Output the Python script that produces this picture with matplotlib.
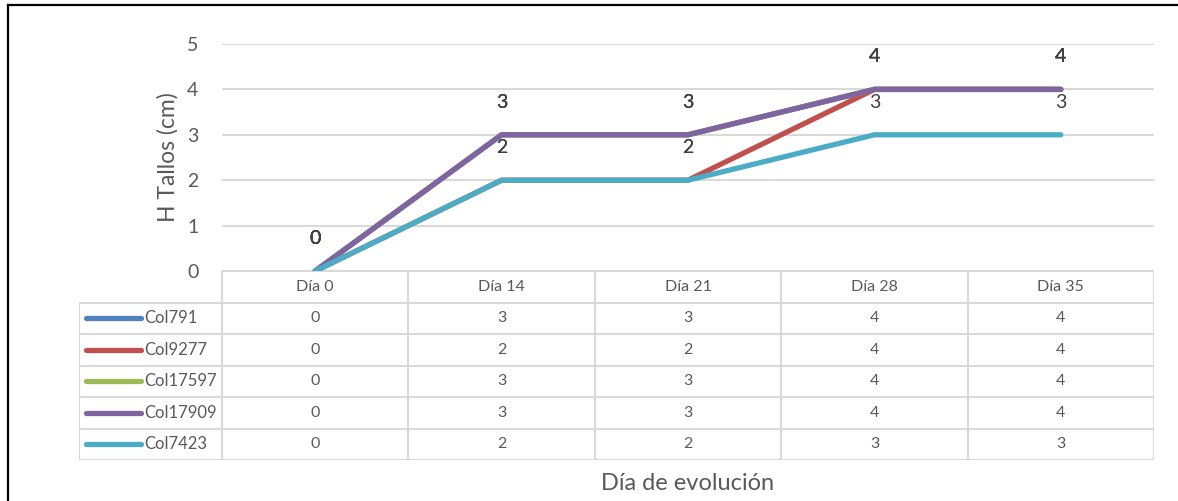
import matplotlib.pyplot as plt
import numpy as np
from matplotlib.lines import Line2D

# datos
dias = ['Día 0', 'Día 14', 'Día 21', 'Día 28', 'Día 35']
series = ['Col791', 'Col9277', 'Col17597', 'Col17909', 'Col7423']
col791 = [0, 3, 3, 4, 4]
col9277 = [0, 2, 2, 4, 4]
col17597 = [0, 3, 3, 4, 4]
col17909 = [0, 3, 3, 4, 4]
col7423 = [0, 2, 2, 3, 3]
valores = [col791, col9277, col17597, col17909, col7423]
colores = ['#4F81BD', '#C0504D', '#9BBB59', '#8064A2', '#4BACC6']

plt.rcParams['font.family'] = ['Lato', 'DejaVu Sans']

W, H = 1178, 501
fig = plt.figure(figsize=(W / 100, H / 100), dpi=100)


def px(x0, y0, x1, y1):
    return [x0 / W, 1 - y1 / H, (x1 - x0) / W, (y1 - y0) / H]


gris = '#D9D9D9'
texto = '#595959'

# grafico de lineas
ax = fig.add_axes(px(222, 44, 1154, 271))
x = np.arange(len(dias))
for vals, c in zip(valores, colores):
    ax.plot(x, vals, color=c, lw=3.8, solid_capstyle='round',
            solid_joinstyle='round', zorder=3)
for vals in valores:
    for xi, v in zip(x, vals):
        ax.annotate(str(v), (xi, v), xytext=(0, 23.5), textcoords='offset points',
                    ha='center', va='center', fontsize=14, color='#404040')

ax.set_xlim(-0.5, 4.5)
ax.set_ylim(0, 5)
ax.set_yticks(range(6))
ax.set_xticks([])
ax.tick_params(axis='y', length=0, pad=17, labelsize=14, labelcolor=texto)
for s in ax.spines.values():
    s.set_visible(False)
ax.yaxis.grid(True, color=gris, lw=1.5)
ax.set_axisbelow(True)
ax.set_ylabel('H Tallos (cm)', fontsize=16.5, color=texto, labelpad=6)

# tabla de datos
tx = fig.add_axes(px(79, 271, 1154, 460))
cat_w = (1154 - 222) / 5
leg_w = (222 - 79) / cat_w
x0 = -0.5 - leg_w
tx.set_xlim(x0, 4.5)
tx.set_ylim(6, 0)
tx.axis('off')

tx.hlines(0, -0.5, 4.5, color=gris, lw=1.5)
for r in range(1, 7):
    tx.hlines(r, x0, 4.5, color=gris, lw=1.5)
for b in np.arange(-0.5, 5):
    tx.vlines(b, 0, 6, color=gris, lw=1.5)
tx.vlines(x0, 1, 6, color=gris, lw=1.5)

for i, d in enumerate(dias):
    tx.text(i, 0.5, d, ha='center', va='center', fontsize=11.5, color=texto)
for r, (nombre, vals, c) in enumerate(zip(series, valores, colores)):
    yr = r + 1.5
    tx.plot([x0 + 7 / cat_w, x0 + 62 / cat_w], [yr, yr], color=c, lw=3.8,
            solid_capstyle='round')
    tx.text(x0 + 65 / cat_w, yr, nombre, ha='left', va='center',
            fontsize=12, color=texto)
    for i, v in enumerate(vals):
        tx.text(i, yr, str(v), ha='center', va='center', fontsize=11.5, color=texto)

fig.text(688 / W, 1 - 483 / H, 'Día de evolución', ha='center', va='center',
         fontsize=17, color=texto)

# marco
fig.add_artist(Line2D([8 / W, 1], [1 - 5 / H, 1 - 5 / H], color='black', lw=1.6))
fig.add_artist(Line2D([8 / W, 8 / W], [1 - 5 / H, 0], color='black', lw=1.6))

fig.savefig('out.png', dpi=100, facecolor='white')
